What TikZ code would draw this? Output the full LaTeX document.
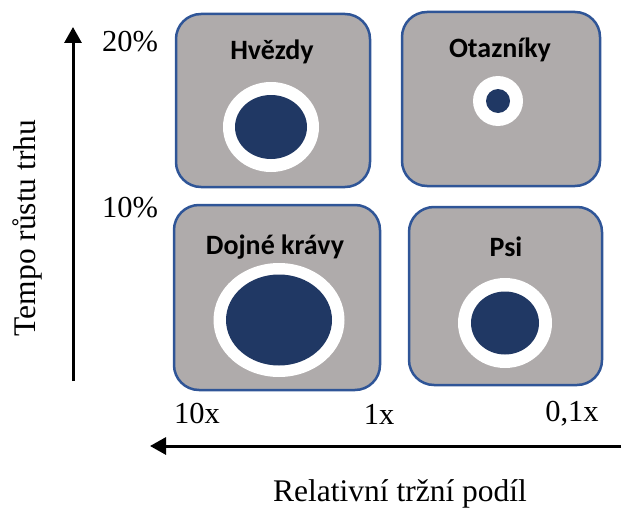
\documentclass[tikz,border=0pt]{standalone}
\usepackage{fontspec}
\setmainfont{Liberation Serif}
\newfontfamily\calibrifont{Carlito}
\usetikzlibrary{arrows.meta,shapes.geometric}
\definecolor{boxgray}{HTML}{AFABAB}
\definecolor{boxblue}{HTML}{2F5597}
\definecolor{dotblue}{HTML}{203864}
\begin{document}
\begin{tikzpicture}[x=1pt,y=-1pt,
 quad/.style={draw=boxblue, line width=2.5pt, fill=boxgray, rounded corners=25pt, inner sep=0pt},
 ring/.style={ellipse, fill=white, inner sep=0pt},
 dot/.style={ellipse, fill=dotblue, inner sep=0pt},
 qlabel/.style={font=\calibrifont\bfseries\fontsize{28}{34}\selectfont, inner sep=0pt},
 axlabel/.style={font=\fontsize{31.5}{38}\selectfont, inner sep=0pt},
 ticklabel/.style={font=\fontsize{30.5}{36}\selectfont, inner sep=0pt},
 axis/.style={line width=3pt, -{Triangle[length=16pt,width=17pt]}}]
\useasboundingbox (0,0) rectangle (623,511);

% quadrants
\node[quad, minimum width=194pt, minimum height=173pt] (stars) at (273,100.5) {};
\node[quad, minimum width=198pt, minimum height=174pt] (question) at (501,99) {};
\node[quad, minimum width=206pt, minimum height=185pt] (cows) at (277,297.5) {};
\node[quad, minimum width=193pt, minimum height=178pt] (dogs) at (505.5,296) {};

% labels
\node[qlabel] (starsl) at (272,52) {Hvězdy};
\node[qlabel] (questionl) at (500,50) {Otazníky};
\node[qlabel] (cowsl) at (275,247) {Dojné krávy};
\node[qlabel] (dogsl) at (506,247) {Psi};

% bubbles
\node[ring, minimum width=96pt, minimum height=90pt] (starsr) at (271,127) {};
\node[dot, minimum width=72pt, minimum height=64pt] (starsd) at (271,127) {};
\node[ring, minimum width=50pt, minimum height=50pt] (questionr) at (498,101) {};
\node[dot, minimum width=24pt, minimum height=24pt] (questiond) at (498,101) {};
\node[ring, minimum width=131pt, minimum height=114pt] (cowsr) at (279,320) {};
\node[dot, minimum width=106pt, minimum height=91pt] (cowsd) at (279,320) {};
\node[ring, minimum width=94pt, minimum height=90pt] (dogsr) at (505,323) {};
\node[dot, minimum width=68pt, minimum height=63pt] (dogsd) at (505,323) {};

% axes
\coordinate (yfrom) at (73,381);
\coordinate (yto) at (73,27);
\coordinate (xfrom) at (621,446);
\coordinate (xto) at (150,446);
\draw[axis] (yfrom) -- (yto);
\draw[axis] (xfrom) -- (xto);

% axis texts
\node[ticklabel] (t20) at (130,42) {20\%};
\node[ticklabel] (t10) at (130,208) {10\%};
\node[ticklabel] (t10x) at (197,414) {10x};
\node[ticklabel] (t1x) at (379,414) {1x};
\node[ticklabel] (t01x) at (572,414) {0,1x};
\node[axlabel, rotate=90] (ytitle) at (27,228) {Tempo růstu trhu};
\node[axlabel] (xtitle) at (400,494) {Relativní tržní podíl};
\end{tikzpicture}
\end{document}
